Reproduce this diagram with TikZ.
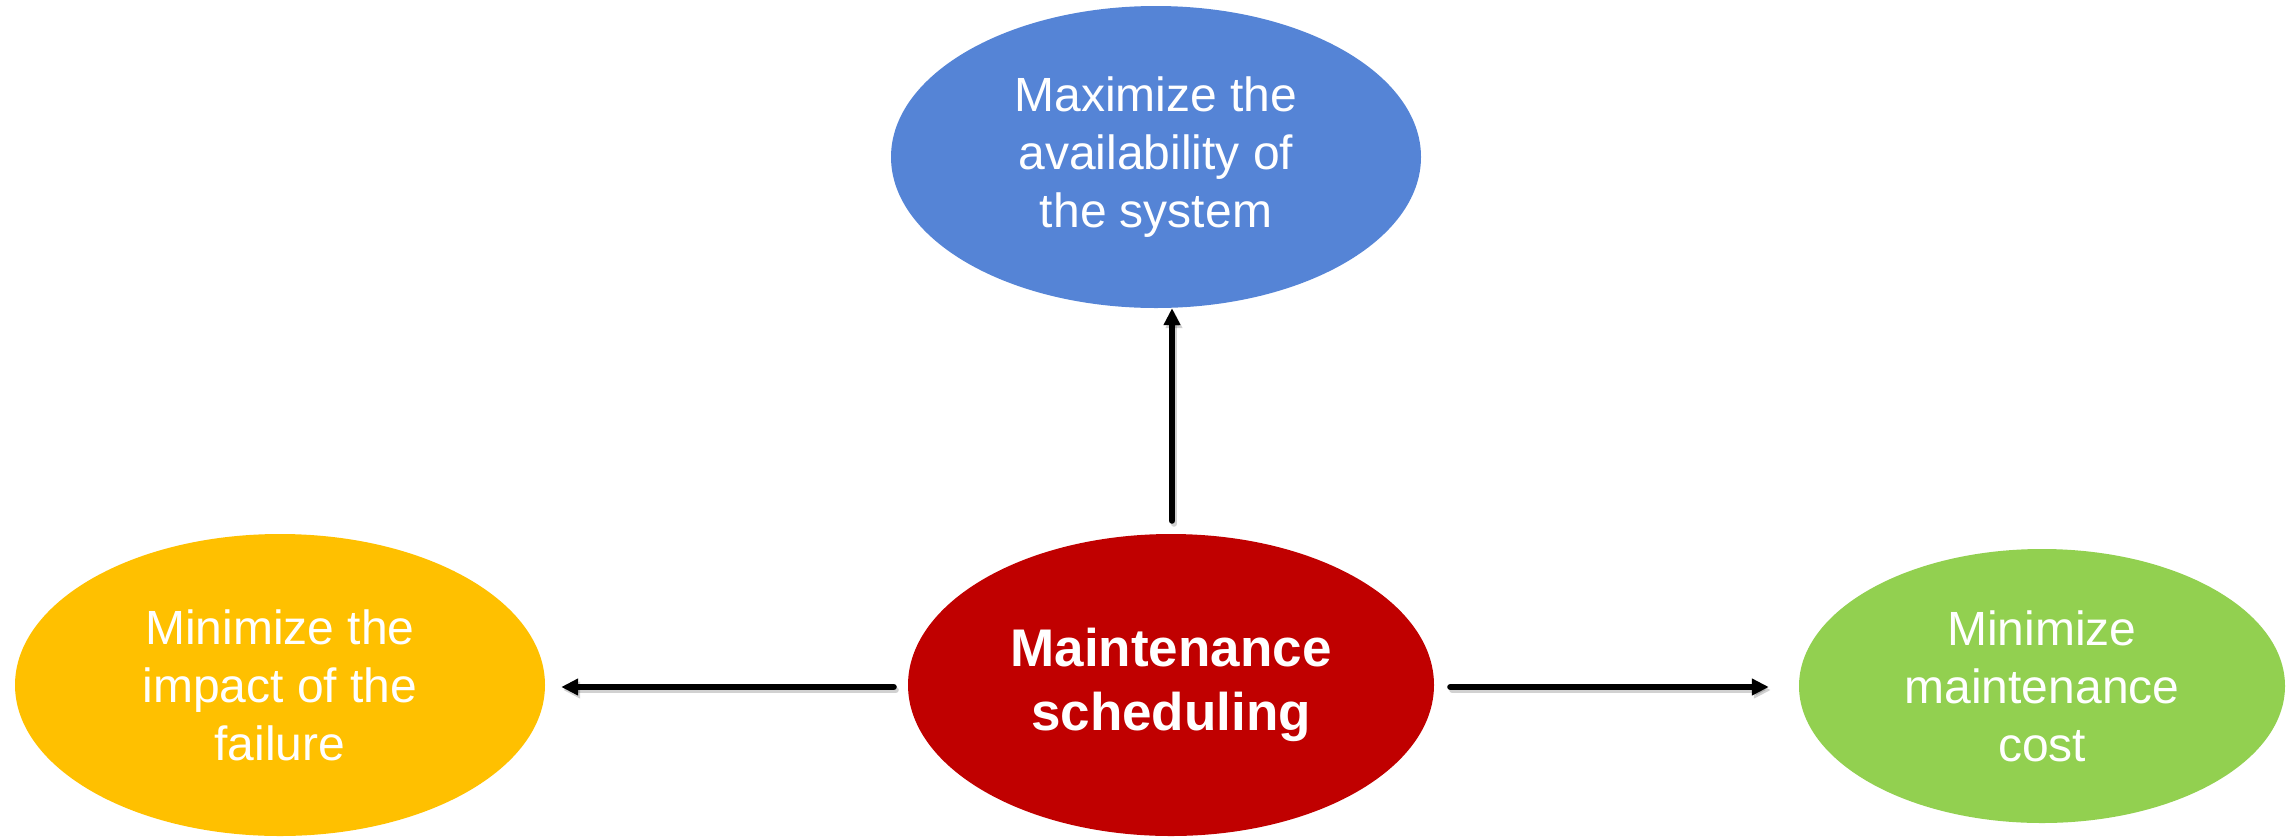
\documentclass[tikz,border=0pt]{standalone}
\usepackage{fontspec}
\setmainfont{Liberation Sans}
\usetikzlibrary{shapes.geometric,arrows.meta}

\definecolor{goalblue}{HTML}{5584D6}
\definecolor{goalyellow}{HTML}{FFC000}
\definecolor{goalred}{HTML}{C00000}
\definecolor{goalgreen}{HTML}{92D050}

\tikzset{
  goal/.style={ellipse, inner sep=0pt, text=white, align=center,
    font=\fontsize{48}{58}\selectfont},
  hub/.style={goal, font=\fontsize{53}{64}\selectfont\bfseries},
  link/.style={line width=6pt, line cap=round,
    -{Triangle[length=17pt,width=16pt]}},
  linkshade/.style={link, draw=black, opacity=0.18,
    transform canvas={shift={(2pt,-3pt)}}}
}

\begin{document}
\begin{tikzpicture}[x=1pt,y=-1pt]
  \useasboundingbox (0,0) rectangle (2295,836);

  % objective ellipses
  \node[goal, fill=goalblue, minimum width=530pt, minimum height=302pt]
    (avail) at (1156,157) {Maximize the\\availability of\\the system};
  \node[goal, fill=goalyellow, minimum width=530pt, minimum height=302pt]
    (impact) at (280,685) {Minimize the\\impact of the\\failure};
  \node[hub, fill=goalred, minimum width=526pt, minimum height=302pt]
    (sched) at (1171,685) {Maintenance\\scheduling};
  \node[goal, fill=goalgreen, minimum width=486pt, minimum height=274pt]
    (cost) at (2042,686) {Minimize\\maintenance\\cost};

  % arrows from the scheduling hub to each objective, each with a faint shadow
  \foreach \sty in {linkshade,link}{
    \draw[\sty, shorten <=13pt]
      ([xshift=1pt]sched.north) -- ([xshift=1pt]sched.north |- avail.south);
    \draw[\sty, shorten <=14pt, shorten >=16pt]
      ([yshift=-2pt]sched.west) -- ([yshift=-2pt]impact.east);
    \draw[\sty, shorten <=16pt, shorten >=30pt]
      ([yshift=-2pt]sched.east) -- ([yshift=-2pt]sched.east -| cost.west);
  }
\end{tikzpicture}
\end{document}
